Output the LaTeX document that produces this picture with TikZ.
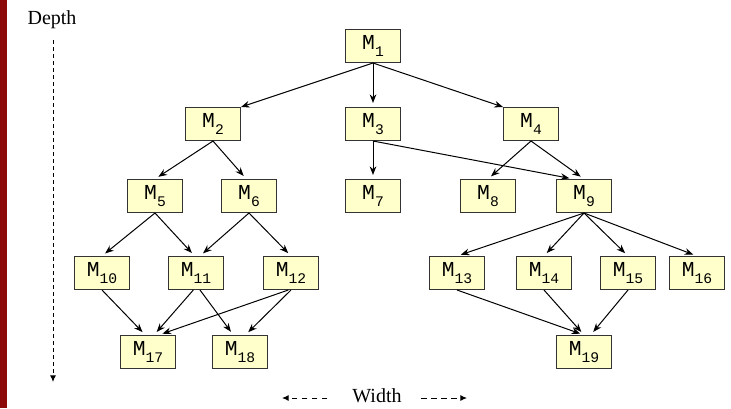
\documentclass[tikz,border=0pt]{standalone}
\usepackage{fontspec}
\setmainfont{Liberation Serif}
\setmonofont{Liberation Mono}
\usetikzlibrary{arrows.meta,positioning}

\definecolor{boxfill}{RGB}{255,255,204}
\definecolor{slidered}{RGB}{140,10,10}

% module label: M with a lowered index
\newcommand{\mname}[1]{{\fontsize{16pt}{18pt}\ttfamily M\raisebox{-5.5pt}{\fontsize{11pt}{12pt}\selectfont #1}}}

\begin{document}
\begin{tikzpicture}[x=0.75pt, y=-0.75pt, line width=0.75pt,
	mbox/.style={draw=black!80, fill=boxfill, minimum width=41.25pt, minimum height=24.75pt, inner sep=0pt},
	link/.style={-{Stealth[length=6.5pt,width=5pt]}, shorten >=3pt},
	guide/.style={dash pattern=on 3pt off 2.25pt, -{Latex[length=5pt,width=4.5pt]}}]
	\useasboundingbox (0,0) rectangle (731,408);
	\fill[slidered] (0,0) rectangle (7,408);
	% top level
	\node[mbox] (m1) at (373,46) {\mname{1}};
	% second level
	\node[mbox] (m2) at (213,124) {\mname{2}};
	\node[mbox] (m3) at (373,124) {\mname{3}};
	\node[mbox] (m4) at (531,124) {\mname{4}};
	% third level
	\node[mbox] (m5) at (155,196) {\mname{5}};
	\node[mbox] (m6) at (249,196) {\mname{6}};
	\node[mbox] (m7) at (373,196) {\mname{7}};
	\node[mbox] (m8) at (488,196) {\mname{8}};
	\node[mbox] (m9) at (584,196) {\mname{9}};
	% fourth level
	\node[mbox] (m10) at (102,273) {\mname{10}};
	\node[mbox] (m11) at (196,273) {\mname{11}};
	\node[mbox] (m12) at (291,273) {\mname{12}};
	\node[mbox] (m13) at (457,273) {\mname{13}};
	\node[mbox] (m14) at (544,273) {\mname{14}};
	\node[mbox] (m15) at (628,273) {\mname{15}};
	\node[mbox] (m16) at (697,273) {\mname{16}};
	% bottom level
	\node[mbox] (m17) at (148,352) {\mname{17}};
	\node[mbox] (m18) at (240,352) {\mname{18}};
	\node[mbox] (m19) at (584,352) {\mname{19}};
	% links
	\draw[link, shorten >=0pt] (m1.south) -- (m2.north east);
	\draw[link] (m1.south) -- (m3.north);
	\draw[link, shorten >=0pt] (m1.south) -- (m4.north west);
	\draw[link] (m2.south) -- (m5.north);
	\draw[link] (m2.south) -- ([xshift=-2pt]m6.north);
	\draw[link] (m3.south) -- (m7.north);
	\draw[link] (m3.south) -- ([xshift=-8pt]m9.north);
	\draw[link] (m4.south) -- (m8.north);
	\draw[link] (m4.south) -- (m9.north);
	\draw[link] (m5.south) -- (m10.north);
	\draw[link] (m5.south) -- ([xshift=-1pt]m11.north);
	\draw[link] (m6.south) -- ([xshift=3pt]m11.north);
	\draw[link] (m6.south) -- (m12.north);
	\draw[link] (m9.south) -- (m13.north);
	\draw[link] (m9.south) -- (m14.north);
	\draw[link] (m9.south) -- (m15.north);
	\draw[link] (m9.south) -- (m16.north);
	\draw[link] (m10.south) -- ([xshift=-2pt]m17.north);
	\draw[link] ([xshift=-2pt]m11.south) -- ([xshift=4.5pt]m17.north);
	\draw[link] ([xshift=3pt]m11.south) -- ([xshift=-5pt]m18.north);
	\draw[link] ([xshift=-2pt]m12.south) -- ([xshift=8pt]m17.north);
	\draw[link] (m12.south) -- ([xshift=4pt]m18.north);
	\draw[link] (m13.south) -- (m19.north);
	\draw[link] (m14.south) -- (m19.north);
	\draw[link] (m15.south) -- ([xshift=5pt]m19.north);
	% depth and width guides
	\node[font=\fontsize{15pt}{17pt}\selectfont] (depth) at (52,20) {Depth};
	\coordinate (dtop) at (53,40);
	\coordinate (dbot) at (53,382);
	\draw[guide] (dtop) -- (dbot);
	\node[font=\fontsize{15pt}{17pt}\selectfont] (width) at (377,396) {Width};
	\coordinate (wleft) at (282,398);
	\coordinate (wright) at (467,398);
	\draw[guide, dash pattern=on 4pt off 3.5pt] ([xshift=-15pt,yshift=-1.5pt]width.west) -- (wleft);
	\draw[guide, dash pattern=on 4pt off 3.5pt] ([xshift=11pt,yshift=-1.5pt]width.east) -- (wright);
\end{tikzpicture}
\end{document}
